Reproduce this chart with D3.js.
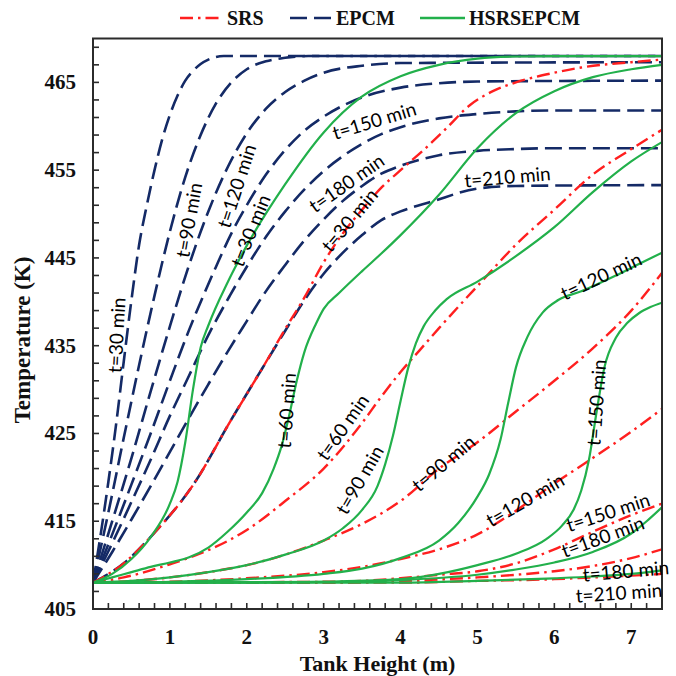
<!DOCTYPE html>
<html>
<head>
<meta charset="utf-8">
<script src="https://cdn.jsdelivr.net/npm/d3@7"></script>
<style>
  html, body { margin: 0; padding: 0; background: #fff; }
  svg { display: block; }
</style>
</head>
<body>
<svg id="chart" width="676" height="676"></svg>
<script>
// Axis ticks
const xTickLabels = [0, 1, 2, 3, 4, 5, 6, 7];
const yTickLabels = [405, 415, 425, 435, 445, 455, 465];

// Temperature profiles along the tank height: [height (m), temperature (K)]
// SRS
const srs30 = [[0,408],[0.4,410.2],[0.8,413.7],[1.3,419.1],[1.8,426.6],[2.2,432.4],[2.5,436.9],[2.75,440.5],[3,444.5],[3.25,447.8],[3.5,450.5],[3.75,453],[4,455],[4.3,457.3],[4.6,459.8],[4.9,462.4],[5.2,464],[5.5,465],[6,466.1],[6.35,466.7],[7,467.3],[7.4,467.6]];
const srs60 = [[0,408],[0.4,408.6],[1,410.1],[1.5,411.7],[2,414],[2.5,417.3],[3,421],[3.5,426.2],[3.75,429.2],[4,432],[4.25,434.5],[4.5,437],[5,441.8],[5.5,446.5],[6,450.5],[6.5,454.5],[7,457.4],[7.4,459.6]];
const srs90 = [[0,408],[0.5,408.2],[1,408.6],[1.5,409.2],[2,410],[2.5,411.2],[3,412.8],[3.5,414.7],[4,417.3],[4.5,421],[5,424],[5.5,427.5],[6,431],[6.5,434.7],[7,439],[7.4,443.3]];
const srs120 = [[0,408],[1,408.1],[2,408.5],[3,409.2],[3.5,409.8],[4,410.7],[4.5,411.8],[5,413.5],[5.5,416.2],[6,419.3],[6.5,422.2],[7,425.2],[7.4,427.8]];
const srs150 = [[0,408],[3,408.1],[3.5,408.2],[4,408.5],[4.5,408.9],[5,409.3],[5.5,410.2],[6,411.8],[6.5,413.8],[7,415.7],[7.4,417]];
const srs180 = [[0,408],[3,408],[4,408.2],[5,408.6],[5.5,408.9],[6,409.3],[6.5,409.9],[7,410.8],[7.4,411.8]];
const srs210 = [[0,408],[4,408],[5,408.2],[6,408.4],[6.5,408.6],[7,408.8],[7.4,409]];

// EPCM
const epcm30 = [[0,408],[0.1,413.5],[0.2,419.5],[0.3,426],[0.4,433.2],[0.5,440.2],[0.6,446.5],[0.7,451],[0.8,455],[0.9,458.5],[1,461.3],[1.1,463.5],[1.2,465.2],[1.3,466.3],[1.4,467.1],[1.5,467.6],[1.7,468],[7.4,468]];
const epcm60 = [[0,408],[0.2,416],[0.4,424.5],[0.6,432.8],[0.8,440.7],[1,448],[1.2,454.2],[1.4,459],[1.6,462.6],[1.8,465],[2,466.5],[2.25,467.4],[2.5,467.8],[2.8,468],[7.4,468]];
const epcm90 = [[0,408],[0.25,415],[0.5,422.2],[0.75,429.8],[1,437.2],[1.25,444.2],[1.5,450.3],[1.75,455.3],[2,459.2],[2.25,462],[2.5,463.9],[2.75,465.2],[3,466.1],[3.5,466.9],[4,467.2],[7.4,467.3]];
const epcm120 = [[0,408],[0.25,413.5],[0.5,419.2],[0.75,425],[1,431],[1.25,436.8],[1.45,441],[1.6,444],[1.8,447.8],[2,451],[2.25,454.5],[2.5,457.3],[2.75,459.5],[3,461.1],[3.5,463.3],[4,464.4],[4.5,464.9],[5,465.1],[7.4,465.2]];
const epcm150 = [[0,408],[0.25,412.5],[0.5,417.2],[0.75,422],[1,427],[1.25,431.6],[1.5,436.2],[1.78,440.7],[2,444],[2.25,447.4],[2.5,450.3],[2.75,452.8],[3,454.9],[3.25,456.6],[3.5,458],[3.75,459.1],[4,459.9],[4.5,460.9],[5,461.4],[5.5,461.7],[6,461.8],[7.4,461.8]];
const epcm180 = [[0,408],[0.25,411.5],[0.5,415.2],[0.75,419],[1,422.9],[1.25,426.8],[1.5,430.6],[1.75,434.3],[2,437.8],[2.21,440.7],[2.5,444.2],[2.75,447],[3,449.4],[3.25,451.5],[3.5,453.2],[3.75,454.6],[4,455.5],[4.5,456.7],[5,457.2],[5.5,457.4],[6,457.5],[7.4,457.5]];
const epcm210 = [[0,408],[0.4,410.2],[0.8,413.7],[1.3,419.1],[1.8,426.6],[2.2,432.4],[2.5,436.7],[2.75,440.2],[3,443.2],[3.25,445.6],[3.5,447.6],[3.75,449.3],[4,450.3],[4.4,451.4],[5,452.9],[5.5,453.2],[7.4,453.3]];

// HSRSEPCM
const hyb30 = [[0,408],[0.25,409],[0.5,410.7],[0.75,413.2],[1,417],[1.1,419.5],[1.2,424],[1.3,430],[1.4,434.8],[1.5,437.3],[1.75,442.2],[2,446.4],[2.5,453.4],[3,459.3],[3.5,463.4],[4,465.7],[4.5,467],[5,467.7],[5.5,467.95],[6,468],[7.4,468]];
const hyb60 = [[0,408],[0.25,408.6],[0.5,409.2],[0.75,409.8],[1,410.3],[1.25,410.9],[1.5,412],[1.75,413.8],[2,416],[2.2,418.2],[2.35,421],[2.45,423.5],[2.55,427],[2.65,431],[2.75,434.3],[2.9,437.5],[3,439.2],[3.2,441],[3.5,443.5],[3.75,445.5],[4,447.6],[4.5,452.2],[5,457.5],[5.5,461.5],[6,464],[6.5,465.6],[7,466.5],[7.4,467]];
const hyb90 = [[0,408],[0.5,408.2],[1,408.6],[1.5,409.2],[2,410],[2.5,411.2],[3,412.8],[3.25,414.2],[3.5,416.3],[3.7,419],[3.8,421.5],[3.9,424.7],[4,428.7],[4.1,432.5],[4.2,435.3],[4.3,437.2],[4.45,439],[4.6,440.3],[5,442.3],[5.5,445.2],[6,448.5],[6.5,452.5],[7,456],[7.4,458.2]];
const hyb120 = [[0,408],[1,408.1],[2,408.4],[3,409],[3.5,409.6],[4,410.8],[4.5,412.8],[4.75,414.8],[5,417.8],[5.15,420.3],[5.3,424.3],[5.4,428.5],[5.5,432.5],[5.65,436],[5.85,438.8],[6.05,440.2],[6.35,441.2],[6.8,443],[7.1,444.3],[7.4,445.6]];
const hyb150 = [[0,408],[2,408],[3,408.1],[4,408.4],[4.5,409],[5,410],[5.5,411.3],[5.9,413],[6.1,414.5],[6.25,416.3],[6.35,418.5],[6.45,422],[6.55,427.5],[6.65,432.5],[6.8,435.9],[6.95,437.6],[7.1,438.7],[7.25,439.4],[7.4,439.9]];
const hyb180 = [[0,408],[3,408.1],[4,408.3],[5,408.9],[5.5,409.5],[6,410.3],[6.5,411.5],[7,413.6],[7.2,415],[7.4,416.6]];
const hyb210 = [[0,408],[4,408],[5,408.2],[6,408.5],[6.5,408.7],[7,409],[7.4,409.4]];

// Curve labels: text, height (m), temperature (K), rotation (deg)
const curveLabels = [
  ["t=30 min", 0.31, 436.2, -87],
  ["t=90 min", 1.25, 449.3, -80],
  ["t=120 min", 1.87, 453.2, -72],
  ["t=30 min", 2.05, 448.1, -68],
  ["t=150 min", 3.66, 460.6, -17],
  ["t=180 min", 3.3, 453.5, -35],
  ["t=30 min", 3.34, 449.3, -50],
  ["t=210 min", 5.39, 454.2, -5],
  ["t=60 min", 2.52, 427.6, -86],
  ["t=60 min", 3.25, 425.7, -55],
  ["t=90 min", 3.47, 419.7, -60],
  ["t=90 min", 4.56, 421.6, -40],
  ["t=120 min", 6.61, 442.9, -25],
  ["t=150 min", 6.55, 428.5, -86],
  ["t=120 min", 5.62, 417.4, -30],
  ["t=150 min", 6.7, 416, -18],
  ["t=180 min", 6.63, 413.2, -20],
  ["t=180 min", 6.93, 409.3, -5],
  ["t=210 min", 6.84, 406.8, -4]
];

const srsSeries = [srs30, srs60, srs90, srs120, srs150, srs180, srs210];
const epcmSeries = [epcm30, epcm60, epcm90, epcm120, epcm150, epcm180, epcm210];
const hybSeries = [hyb30, hyb60, hyb90, hyb120, hyb150, hyb180, hyb210];

const legendItems = [
  { name: "SRS", color: "#ff1f1f", dash: "13,5,2.5,5" },
  { name: "EPCM", color: "#142a66", dash: "17,7" },
  { name: "HSRSEPCM", color: "#22b04b", dash: null }
];

const svg = d3.select("#chart");
const plotLeft = 93, plotRight = 662, plotTop = 38.5, plotBottom = 609;

const x = d3.scaleLinear().domain([0, 7.4]).range([plotLeft, plotRight]);
const y = d3.scaleLinear().domain([405, 470]).range([plotBottom, plotTop]);

svg.append("defs").append("clipPath").attr("id", "plotClip")
  .append("rect").attr("x", plotLeft).attr("y", plotTop)
  .attr("width", plotRight - plotLeft).attr("height", plotBottom - plotTop);

const line = d3.line()
  .x(d => x(d[0])).y(d => y(d[1]))
  .curve(d3.curveMonotoneX);

const plot = svg.append("g").attr("clip-path", "url(#plotClip)");

function drawFamily(series, item, width) {
  plot.append("g").selectAll("path").data(series).join("path")
    .attr("d", line)
    .attr("fill", "none")
    .attr("stroke", item.color)
    .attr("stroke-width", width)
    .attr("stroke-dasharray", item.dash)
    .attr("stroke-linejoin", "round");
}
drawFamily(epcmSeries, legendItems[1], 2.6);
drawFamily(srsSeries, legendItems[0], 2.4);
drawFamily(hybSeries, legendItems[2], 2.2);

// Frame and inward ticks
const axisColor = "#2b2b2b";
svg.append("rect").attr("x", plotLeft).attr("y", plotTop)
  .attr("width", plotRight - plotLeft).attr("height", plotBottom - plotTop)
  .attr("fill", "none").attr("stroke", axisColor).attr("stroke-width", 2);

const yMinor = d3.range(407, 470, 2);
svg.append("g").selectAll("line").data(yMinor).join("line")
  .attr("x1", plotLeft).attr("x2", plotLeft + 6)
  .attr("y1", d => y(d)).attr("y2", d => y(d))
  .attr("stroke", axisColor).attr("stroke-width", 1.6);

const xMinor = d3.range(1, 37).map(i => i * 0.2);
svg.append("g").selectAll("line").data(xMinor).join("line")
  .attr("x1", d => x(d)).attr("x2", d => x(d))
  .attr("y1", plotBottom).attr("y2", plotBottom - 6)
  .attr("stroke", axisColor).attr("stroke-width", 1.6);

const tickFont = "'Liberation Serif', 'Times New Roman', serif";
svg.append("g").selectAll("text").data(yTickLabels).join("text")
  .attr("x", 76).attr("y", d => y(d) + 7)
  .attr("text-anchor", "end")
  .style("font-family", tickFont).style("font-weight", "bold").style("font-size", "21px")
  .attr("fill", "#111")
  .text(d => d);

svg.append("g").selectAll("text").data(xTickLabels).join("text")
  .attr("x", d => x(d)).attr("y", 644)
  .attr("text-anchor", "middle")
  .style("font-family", tickFont).style("font-weight", "bold").style("font-size", "21px")
  .attr("fill", "#111")
  .text(d => d);

svg.append("text")
  .attr("x", (plotLeft + plotRight) / 2).attr("y", 671)
  .attr("text-anchor", "middle")
  .style("font-family", tickFont).style("font-weight", "bold").style("font-size", "22px")
  .attr("fill", "#111")
  .text("Tank Height (m)");

svg.append("text")
  .attr("transform", "translate(30,340) rotate(-90)")
  .attr("text-anchor", "middle")
  .style("font-family", tickFont).style("font-weight", "bold").style("font-size", "23px")
  .attr("fill", "#111")
  .text("Temperature (K)");

// Curve labels
svg.append("g").selectAll("text").data(curveLabels).join("text")
  .attr("transform", d => `translate(${x(d[1])},${y(d[2])}) rotate(${d[3]})`)
  .attr("text-anchor", "middle")
  .attr("dy", "0.35em")
  .style("font-family", "Lato, 'Open Sans', sans-serif")
  .style("font-size", "19px")
  .attr("fill", "#000")
  .text(d => d[0]);

// Legend
const legendX = [180, 290, 420];
const legendW = [43, 42, 45];
const lg = svg.append("g");
legendItems.forEach((it, i) => {
  lg.append("line")
    .attr("x1", legendX[i]).attr("x2", legendX[i] + legendW[i])
    .attr("y1", 18).attr("y2", 18)
    .attr("stroke", it.color).attr("stroke-width", 2.6)
    .attr("stroke-dasharray", it.dash);
  lg.append("text")
    .attr("x", legendX[i] + legendW[i] + 4).attr("y", 25)
    .style("font-family", tickFont).style("font-weight", "bold").style("font-size", "20px")
    .attr("fill", "#111")
    .text(it.name);
});
</script>
</body>
</html>
